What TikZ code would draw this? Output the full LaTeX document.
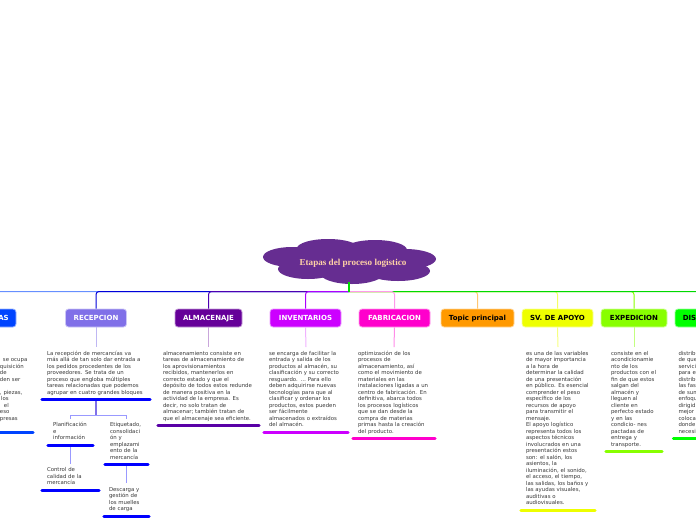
\documentclass[tikz,border=0pt]{standalone}
\usepackage{fontspec}
\setmainfont{DejaVu Sans}
\newfontfamily\titlefont{Liberation Serif}
\definecolor{comprascol}{HTML}{0044FF}
\definecolor{recepcol}{HTML}{8070E8}
\definecolor{almacol}{HTML}{660099}
\definecolor{invcol}{HTML}{CC00FF}
\definecolor{fabcol}{HTML}{FF00CC}
\definecolor{topiccol}{HTML}{FF9900}
\definecolor{apoyocol}{HTML}{EEFF00}
\definecolor{expcol}{HTML}{88FF00}
\definecolor{distcol}{HTML}{00FF00}
\definecolor{cloudcol}{HTML}{662D91}
\tikzset{
    mainbox/.style={draw=#1!40!white, fill=#1, line width=0.8pt, rounded corners=3pt,
        minimum height=18pt, inner sep=0pt, text height=5.2pt, text depth=1pt,
        font=\fontsize{7}{8}\selectfont\bfseries},
    notetext/.style={anchor=north, text=black!78, align=left, text width=#1, inner xsep=5pt,
        inner ysep=3.5pt, font=\fontsize{5.4}{6.5}\selectfont,
        execute at begin node=\strut, execute at end node=\strut},
    branch/.style={line width=1pt, rounded corners=3pt},
    stem/.style={line width=1pt},
    underline/.style={line width=3pt, line cap=round}
}
\begin{document}
\begin{tikzpicture}[x=1pt,y=-1pt]
    \useasboundingbox (0,0) rectangle (696,520);
    \clip (0,0) rectangle (696,520);

    \foreach \cx/\cy/\rx/\ry in {292/257/29/10, 328/248.5/31/9.5, 375/250/32/10, 405/259/31/10,
        398/271/32/10, 308/269/30/10, 352/273/32/11, 350/262/70/14}
        \fill[cloudcol] (\cx,\cy) ellipse [x radius=\rx pt, y radius=\ry pt];
    \node (title) at (353,263.5) [inner sep=0pt, text=orange!35!white,
        font=\titlefont\fontsize{9.1}{11}\selectfont\bfseries] {Etapas del proceso logistico};
    \coordinate (cloudfoot) at (349,282);
    \coordinate (hub) at (349,291.5);

    \node[mainbox=comprascol, text=white, minimum width=58pt] (compras) at (-13,318) {\hspace*{33pt}AS};
    \node[mainbox=recepcol, text=white, minimum width=61pt] (recepcion) at (96,318) {RECEPCION};
    \node[mainbox=almacol, text=white, minimum width=67pt] (almacenaje) at (208.5,318) {ALMACENAJE};
    \node[mainbox=invcol, text=white, minimum width=71pt] (inventarios) at (305.5,318) {INVENTARIOS};
    \node[mainbox=fabcol, text=white, minimum width=71pt] (fabricacion) at (394.5,318) {FABRICACION};
    \node[mainbox=topiccol, text=black, minimum width=73pt] (topic) at (477.5,318) {Topic principal};
    \node[mainbox=apoyocol, text=black, minimum width=71pt] (apoyo) at (557.5,318) {SV. DE APOYO};
    \node[mainbox=expcol, text=black, minimum width=66pt] (expedicion) at (634,318) {EXPEDICION};
    \node[mainbox=distcol, text=black, minimum width=79pt] (distribucion) at (714.5,318) {\hspace*{-50pt}DIS};

    \node[notetext=82pt] (comprastxt) at (-13,347) {\mbox{}\\
        \hspace*{57pt}se ocupa\\
        \hspace*{54pt}quisición\\
        \hspace*{54pt}de\\
        \hspace*{54pt}den ser\\
        \mbox{}\\
        \hspace*{54pt}, piezas,\\
        \hspace*{55pt}los\\
        \hspace*{58pt}el\\
        \hspace*{54pt}eso\\
        \hspace*{54pt}presas\\
        \mbox{}};
    \node[notetext=98pt] (recepciontxt) at (96,347) {La recepción de mercancías va\\
        más allá de tan solo dar entrada a\\
        los pedidos procedentes de los\\
        proveedores. Se trata de un\\
        proceso que engloba múltiples\\
        tareas relacionadas que podemos\\
        agrupar en cuatro grandes bloques};
    \node[notetext=91pt] (almacenajetxt) at (208.5,347) {almacenamiento consiste en\\
        tareas de almacenamiento de\\
        los aprovisionamientos\\
        recibidos, mantenerlos en\\
        correcto estado y que el\\
        depósito de todos estos redunde\\
        de manera positiva en la\\
        actividad de la empresa. Es\\
        decir, no solo tratan de\\
        almacenar; también tratan de\\
        que el almacenaje sea eficiente.};
    \node[notetext=74pt] (inventariostxt) at (306,347) {se encarga de facilitar la\\
        entrada y salida de los\\
        productos al almacén, su\\
        clasificación y su correcto\\
        resguardo. … Para ello\\
        deben adquirirse nuevas\\
        tecnologías para que al\\
        clasificar y ordenar los\\
        productos, estos pueden\\
        ser fácilmente\\
        almacenados o extraídos\\
        del almacén.};
    \node[notetext=72pt] (fabricaciontxt) at (394,347) {optimización de los\\
        procesos de\\
        almacenamiento, así\\
        como el movimiento de\\
        materiales en las\\
        instalaciones ligadas a un\\
        centro de fabricación. En\\
        definitiva, abarca todos\\
        los procesos logísticos\\
        que se dan desde la\\
        compra de materias\\
        primas hasta la creación\\
        del producto.};
    \node[notetext=64pt] (apoyotxt) at (558,347) {es una de las variables\\
        de mayor importancia\\
        a la hora de\\
        determinar la calidad\\
        de una presentación\\
        en público. Es esencial\\
        comprender el peso\\
        específico de los\\
        recursos de apoyo\\
        para transmitir el\\
        mensaje.\\
        El apoyo logístico\\
        representa todos los\\
        aspectos técnicos\\
        involucrados en una\\
        presentación estos\\
        son: el salón, los\\
        asientos, la\\
        iluminación, el sonido,\\
        el acceso, el tiempo,\\
        las salidas, los baños y\\
        las ayudas visuales,\\
        auditivas o\\
        audiovisuales.};
    \node[notetext=46pt] (expediciontxt) at (634,347) {consiste en el\\
        acondicionamie\\
        nto de los\\
        productos con el\\
        fin de que estos\\
        salgan del\\
        almacén y\\
        lleguen al\\
        cliente en\\
        perfecto estado\\
        y en las\\
        condicio- nes\\
        pactadas de\\
        entrega y\\
        transporte.};
    \node[notetext=72pt] (distribuciontxt) at (714.5,347) {distribu\\
        de que\\
        servici\\
        para e\\
        distribu\\
        las fas\\
        de sum\\
        enfoqu\\
        dirigid\\
        mejor\\
        coloca\\
        donde\\
        necesi};

    \node[notetext=35pt] (planif) at (70.5,418.5) {Planificación\\ e\\ información};
    \node[notetext=47pt] (control) at (70.5,463.5) {Control de\\ calidad de la\\ mercancía};
    \node[notetext=33pt] (etiquetado) at (126.5,418.5) {Etiquetado,\\ consolidaci\\ ón y\\ emplazami\\ ento de la\\ mercancía};
    \node[notetext=35pt] (descarga) at (126.5,483) {Descarga y\\ gestión de\\ los muelles\\ de carga};

    \draw[branch, color=comprascol!60!white] (hub) -| (compras.north);
    \draw[branch, color=blue!85!black] (hub) -| (recepcion.north);
    \draw[branch, color=violet!60!blue] (hub) -| (almacenaje.north);
    \draw[branch, color=invcol!85!blue] (hub) -| (inventarios.north);
    \draw[branch, color=topiccol!55!white] (hub) -| (topic.north);
    \draw[branch, color=apoyocol!60!white] (hub) -| (apoyo.north);
    \draw[branch, color=expcol] (hub) -| (expedicion.north);
    \draw[branch, color=distcol!85!black] (hub) -| (distribucion.north);
    \draw[branch, color=fabcol!40!white] (hub) -| (fabricacion.north);
    \draw[line width=1.4pt, color=distcol!85!black] (cloudfoot) -- (hub);

    \draw[stem, color=recepcol!50!white] (recepcion.south) -- (recepciontxt.north);
    \draw[stem, color=almacol!35!white] (almacenaje.south) -- (almacenajetxt.north);
    \draw[stem, color=invcol!30!white] (inventarios.south) -- (inventariostxt.north);
    \draw[stem, color=fabcol!45!white] (fabricacion.south) -- (fabricaciontxt.north);
    \draw[stem, color=apoyocol!50!white] (apoyo.south) -- (apoyotxt.north);
    \draw[stem, color=expcol!50!white] (expedicion.south) -- (expediciontxt.north);

    \coordinate (recfork) at (96,415);
    \draw[line width=1.2pt, color=recepcol] (recepciontxt.south) -- (recfork);
    \draw[stem, color=blue!40!white] (recfork) -| (planif.north);
    \draw[stem, color=blue!40!white] (recfork) -| (etiquetado.north);
    \draw[stem, color=blue!40!white] (planif.south) -- (control.north);
    \draw[stem, color=blue!40!white] (etiquetado.south) -- (descarga.north);

    \draw[underline, color=comprascol] (comprastxt.south west) -- (comprastxt.south east);
    \draw[underline, color=blue] (recepciontxt.south west) -- (recepciontxt.south east);
    \draw[underline, color=violet!70!blue] (almacenajetxt.south west) -- (almacenajetxt.south east);
    \draw[underline, color=invcol] (inventariostxt.south west) -- (inventariostxt.south east);
    \draw[underline, color=fabcol] (fabricaciontxt.south west) -- (fabricaciontxt.south east);
    \draw[underline, color=apoyocol] (apoyotxt.south west) -- (apoyotxt.south east);
    \draw[underline, color=expcol] (expediciontxt.south west) -- (expediciontxt.south east);
    \draw[underline, color=distcol] (distribuciontxt.south west) -- (distribuciontxt.south east);
    \draw[underline, color=blue] (planif.south west) -- (planif.south east);
    \draw[underline, color=blue] (control.south west) -- (control.south east);
    \draw[underline, color=blue] (etiquetado.south west) -- (etiquetado.south east);
    \draw[underline, color=blue] (descarga.south west) -- (descarga.south east);
\end{tikzpicture}
\end{document}
